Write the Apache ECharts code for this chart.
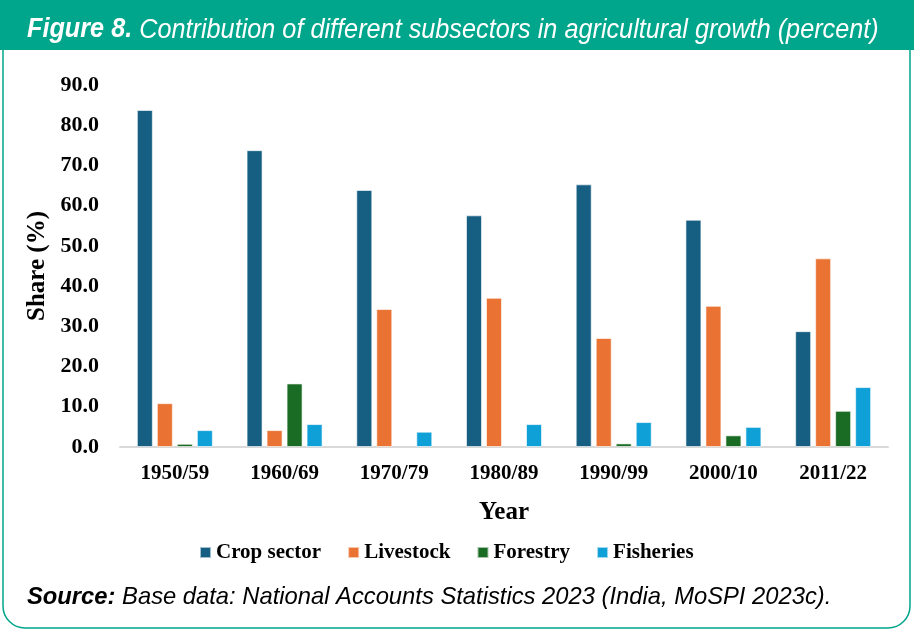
<!DOCTYPE html>
<html>
<head>
<meta charset="utf-8">
<script src="https://cdn.jsdelivr.net/npm/echarts@6/dist/echarts.min.js"></script>
<style>
  html, body { margin: 0; padding: 0; background: #fff; }
  #chart { width: 914px; height: 631px; }
</style>
</head>
<body>
<div id="chart"></div>
<script>
const TEAL = '#00a68b'
const years = ['1950/59', '1960/69', '1970/79', '1980/89', '1990/99', '2000/10', '2011/22']
const crop = [83.8, 73.8, 63.9, 57.6, 65.3, 56.5, 28.8]
const livestock = [10.9, 4.2, 34.3, 37.1, 27.1, 35.1, 46.9]
const forestry = [0.8, 15.8, -0.5, -0.5, 0.9, 2.9, 9.0]
const fisheries = [4.2, 5.7, 3.8, 5.7, 6.2, 5.0, 14.9]
const yTicks = { min: 0, max: 90, interval: 10 }

const serif = '"Liberation Serif", "Times New Roman", serif'
const sans = '"Liberation Sans", Arial, sans-serif'

function bar(name, data, color) {
  return {
    name,
    type: 'bar',
    data,
    barWidth: 16,
    barGap: '25%',
    itemStyle: { color, borderColor: 'rgba(255,255,255,0.6)', borderWidth: 1 }
  }
}

const chart = echarts.init(document.getElementById('chart'))
chart.setOption({
  animation: false,
  graphic: [
    {
      type: 'rect',
      shape: { x: 3, y: 1, width: 907, height: 627, r: [0, 0, 22, 22] },
      style: { fill: '#fff', stroke: TEAL, lineWidth: 1.5 },
      z: -10
    },
    {
      type: 'rect',
      shape: { x: 0, y: 0, width: 914, height: 50 },
      style: { fill: TEAL },
      z: -9
    },
    {
      type: 'text',
      x: 27,
      y: 30,
      scaleX: 0.935,
      style: {
        text: '{b|Figure 8.} Contribution of different subsectors in agricultural growth (percent)',
        fill: '#fff',
        verticalAlign: 'middle',
        font: `italic 27px ${sans}`,
        rich: {
          b: { fill: '#fff', fontWeight: 'bold', fontStyle: 'italic', fontSize: 27, fontFamily: sans }
        }
      }
    },
    {
      type: 'text',
      x: 27,
      y: 597,
      scaleX: 0.99,
      style: {
        text: '{b|Source:} Base data: National Accounts Statistics 2023 (India, MoSPI 2023c).',
        fill: '#000',
        verticalAlign: 'middle',
        font: `italic 24px ${sans}`,
        rich: {
          b: { fill: '#000', fontWeight: 'bold', fontStyle: 'italic', fontSize: 24, fontFamily: sans }
        }
      }
    }
  ],
  legend: {
    top: 537,
    left: 194,
    itemWidth: 11,
    itemHeight: 11,
    itemGap: 26,
    icon: 'rect',
    textStyle: { fontFamily: serif, fontWeight: 'bold', fontSize: 21, color: '#000' }
  },
  grid: { left: 120, right: 26, top: 85, bottom: 184 },
  xAxis: {
    type: 'category',
    data: years,
    name: 'Year',
    nameLocation: 'middle',
    nameGap: 53,
    nameTextStyle: { fontFamily: serif, fontWeight: 'bold', fontSize: 25, color: '#000' },
    axisLine: { lineStyle: { color: '#d9d9d9', width: 2 } },
    axisTick: { show: false },
    axisLabel: { fontFamily: serif, fontWeight: 'bold', fontSize: 21, color: '#000', margin: 16 }
  },
  yAxis: {
    type: 'value',
    min: yTicks.min,
    max: yTicks.max,
    interval: yTicks.interval,
    name: 'Share (%)',
    nameLocation: 'middle',
    nameGap: 64,
    nameRotate: 90,
    nameTextStyle: { fontFamily: serif, fontWeight: 'bold', fontSize: 25, color: '#000' },
    axisLine: { show: false },
    axisTick: { show: false },
    splitLine: { show: false },
    axisLabel: {
      fontFamily: serif, fontWeight: 'bold', fontSize: 22, color: '#000', margin: 21,
      formatter: (v) => v.toFixed(1)
    }
  },
  series: [
    bar('Crop sector', crop, '#175f82'),
    bar('Livestock', livestock, '#ea7333'),
    bar('Forestry', forestry, '#1a6b24'),
    bar('Fisheries', fisheries, '#10a0d8')
  ]
})
</script>
</body>
</html>
